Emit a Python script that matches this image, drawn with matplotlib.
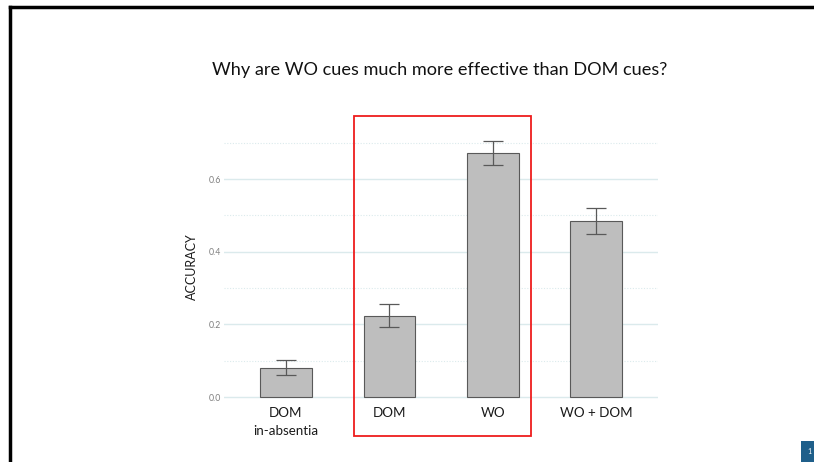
import matplotlib.pyplot as plt
from matplotlib.patches import Rectangle
from matplotlib.lines import Line2D

categories = ['DOM\nin-absentia', 'DOM', 'WO', 'WO + DOM']
accuracy = [0.080, 0.223, 0.672, 0.484]
err_low = [0.061, 0.193, 0.639, 0.449]
err_high = [0.102, 0.256, 0.705, 0.520]
yticks = [0.0, 0.2, 0.4, 0.6]
minor_ticks = [0.1, 0.3, 0.5, 0.7]

plt.rcParams['font.family'] = ['Lato', 'DejaVu Sans']

fig = plt.figure(figsize=(8.14, 4.62), dpi=100)
W, H = 814, 462

# plot area in pixel units
ax = fig.add_axes([224 / W, 1 - 404.3 / H, 434 / W, (404.3 - 128.2) / H])

x = list(range(len(categories)))
ax.bar(x, accuracy, width=0.5, color='#bebebe', edgecolor='#595959', linewidth=0.8, zorder=3)
yerr = [[a - lo for a, lo in zip(accuracy, err_low)],
        [hi - a for a, hi in zip(accuracy, err_high)]]
ax.errorbar(x, accuracy, yerr=yerr, fmt='none', ecolor='#595959', elinewidth=0.9,
            capsize=7.2, capthick=0.9, zorder=4)

ax.set_xlim(-0.6, 3.6)
ax.set_ylim(-0.02, 0.74)
ax.set_yticks(yticks)
ax.set_yticklabels([f'{v:.1f}' for v in yticks])
ax.set_yticks(minor_ticks, minor=True)
ax.grid(axis='y', which='major', color='#dbeaec', linewidth=1.0, zorder=0)
ax.grid(axis='y', which='minor', color='#dbeaec', linewidth=0.8, linestyle=(0, (1, 1.5)), zorder=0)
ax.set_xticks(x)
ax.set_xticklabels(categories, fontsize=9.6, color='#1a1a1a', linespacing=1.55)
ax.tick_params(axis='y', which='both', length=0, labelsize=6.3, labelcolor='#7f7f7f', pad=2)
ax.tick_params(axis='x', length=0, pad=2)
for s in ax.spines.values():
    s.set_visible(False)
ax.set_ylabel('ACCURACY', fontsize=9, color='#1a1a1a', labelpad=8)

# slide title
fig.text(440 / W, 1 - 70 / H, 'Why are WO cues much more effective than DOM cues?',
         ha='center', va='center', fontsize=13.1, color='#111111')

# red highlight box
fig.add_artist(Rectangle((354 / W, 1 - 436 / H), (531 - 354) / W, (436 - 116) / H,
                         transform=fig.transFigure, fill=False, edgecolor='#ee1c1c', linewidth=1.3))

# slide border (top and left)
fig.add_artist(Line2D([10 / W, 1], [1 - 7 / H, 1 - 7 / H], transform=fig.transFigure,
                      color='black', linewidth=2.5))
fig.add_artist(Line2D([10 / W, 10 / W], [0, 1 - 7 / H], transform=fig.transFigure,
                      color='black', linewidth=2.5))

# page number tag
fig.add_artist(Rectangle((801 / W, 0), 13 / W, 21 / H, transform=fig.transFigure,
                         facecolor='#1f5f8a', edgecolor='none'))
fig.text(807 / W, 10 / H, '1', ha='left', va='center', fontsize=5, color='white')

fig.savefig('out.png', dpi=100)
